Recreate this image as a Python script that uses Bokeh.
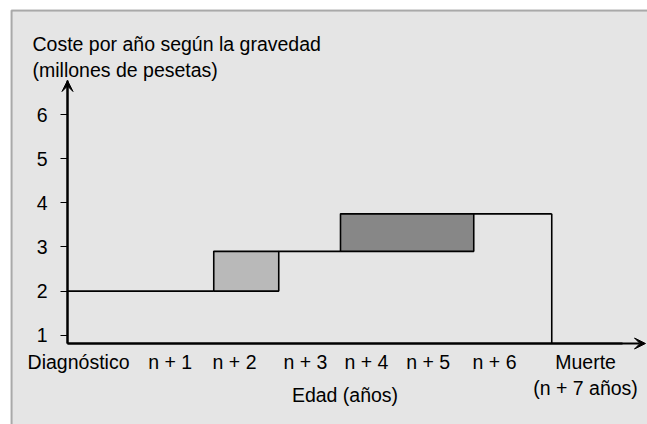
from bokeh.plotting import figure
from bokeh.models import FixedTicker, Arrow, VeeHead, BoxAnnotation, Label
from bokeh.embed import file_html
from bokeh.resources import INLINE

FONT = "Liberation Sans"
FS = "19.5px"

# ---- data ----
y_ticks = [1, 2, 3, 4, 5, 6]
x_tick_pos = [0.17, 1.58, 2.57, 3.66, 4.6, 5.55, 6.57, 7.97]
x_tick_labels = ["Diagnóstico", "n + 1", "n + 2", "n + 3", "n + 4",
                 "n + 5", "n + 6", "Muerte\n(n + 7 años)"]

period_start = [0.0, 2.25, 3.25, 4.2, 6.25]
period_end = [2.25, 3.25, 4.2, 6.25, 7.45]
cost_low = [2.0, 2.0, 2.9, 2.9, 3.75]
cost_high = [2.0, 2.9, 2.9, 3.75, 3.75]

y_title = "Coste por año según la gravedad\n(millones de pesetas)"
x_title = "Edad (años)"

# ---- styles / layout ----
increase_colors = ["#b9b9b9", "#878787"]
BG = "#e5e5e5"
W, H = 647, 424
ORIGIN_PX = (67, 114)        # pixel of x=0 and of y=6
PX_PER_X, PX_PER_Y = 65.0, 44.15


def px2x(px):
    return (px - ORIGIN_PX[0]) / PX_PER_X


def px2y(py):
    return 6 - (py - ORIGIN_PX[1]) / PX_PER_Y


X_AX0, X_AX1 = 0.0, px2x(645)
Y_AX0, Y_AX1 = px2y(343), px2y(80)

p = figure(width=W, height=H, x_range=(px2x(0), px2x(W)), y_range=(px2y(H), px2y(0)),
           output_backend="svg", toolbar_location=None, min_border=0)
p.title.visible = False
p.background_fill_color = "white"
p.border_fill_color = "white"
p.outline_line_color = None
p.grid.visible = False

p.add_layout(BoxAnnotation(left=px2x(11), top=px2y(10), right=px2x(W + 4), bottom=px2y(H + 4),
                           fill_color=BG, fill_alpha=1.0,
                           line_color="black", line_width=2, level="image"))

# y axis
ya = p.yaxis[0]
ya.fixed_location = X_AX0
ya.bounds = (Y_AX0, Y_AX1)
ya.ticker = FixedTicker(ticks=y_ticks)
ya.minor_tick_line_color = None
ya.major_tick_in = 0
ya.major_tick_out = 7
ya.major_tick_line_width = 1
ya.axis_line_width = 2
ya.major_label_standoff = 13
ya.major_label_text_font = FONT
ya.major_label_text_font_size = FS
ya.major_label_text_color = "black"

# x axis
xa = p.xaxis[0]
xa.fixed_location = Y_AX0
xa.bounds = (X_AX0, px2x(622))
xa.ticker = FixedTicker(ticks=x_tick_pos)
xa.major_label_overrides = {pos: lab for pos, lab in zip(x_tick_pos, x_tick_labels)}
xa.minor_tick_line_color = None
xa.major_tick_in = 0
xa.major_tick_out = 0
xa.axis_line_width = 2
xa.major_label_standoff = 7
xa.major_label_text_font = FONT
xa.major_label_text_font_size = FS
xa.major_label_text_color = "black"
xa.axis_label = x_title
xa.axis_label_text_font = FONT
xa.axis_label_text_font_size = FS
xa.axis_label_text_font_style = "normal"
xa.axis_label_text_color = "black"
xa.axis_label_standoff = -18

# y title
p.add_layout(Label(x=px2x(32), y=px2y(32), text=y_title, text_font=FONT,
                   text_font_size=FS, text_color="black", text_baseline="top",
                   text_align="left"))

# steps
inc_idx = 0
for s, e, lo, hi in zip(period_start, period_end, cost_low, cost_high):
    if hi > lo:
        p.quad(left=[s], right=[e], bottom=[lo], top=[hi],
               fill_color=increase_colors[inc_idx], line_color="black", line_width=1.6)
        inc_idx += 1
    else:
        p.line(x=[s, e], y=[lo, lo], line_color="black", line_width=1.6)

# drop at death
p.line(x=[period_end[-1], period_end[-1]], y=[cost_high[-1], Y_AX0],
       line_color="black", line_width=1.6)

# arrow heads
p.add_layout(Arrow(end=VeeHead(size=11, fill_color="black", line_color="black"),
                   x_start=X_AX0, y_start=Y_AX0, x_end=X_AX0, y_end=Y_AX1,
                   line_width=2, line_color="black"))
p.add_layout(Arrow(end=VeeHead(size=11, fill_color="black", line_color="black"),
                   x_start=X_AX0, y_start=Y_AX0, x_end=X_AX1, y_end=Y_AX0,
                   line_width=2, line_color="black"))

open("out.html", "w").write(file_html(p, INLINE))
